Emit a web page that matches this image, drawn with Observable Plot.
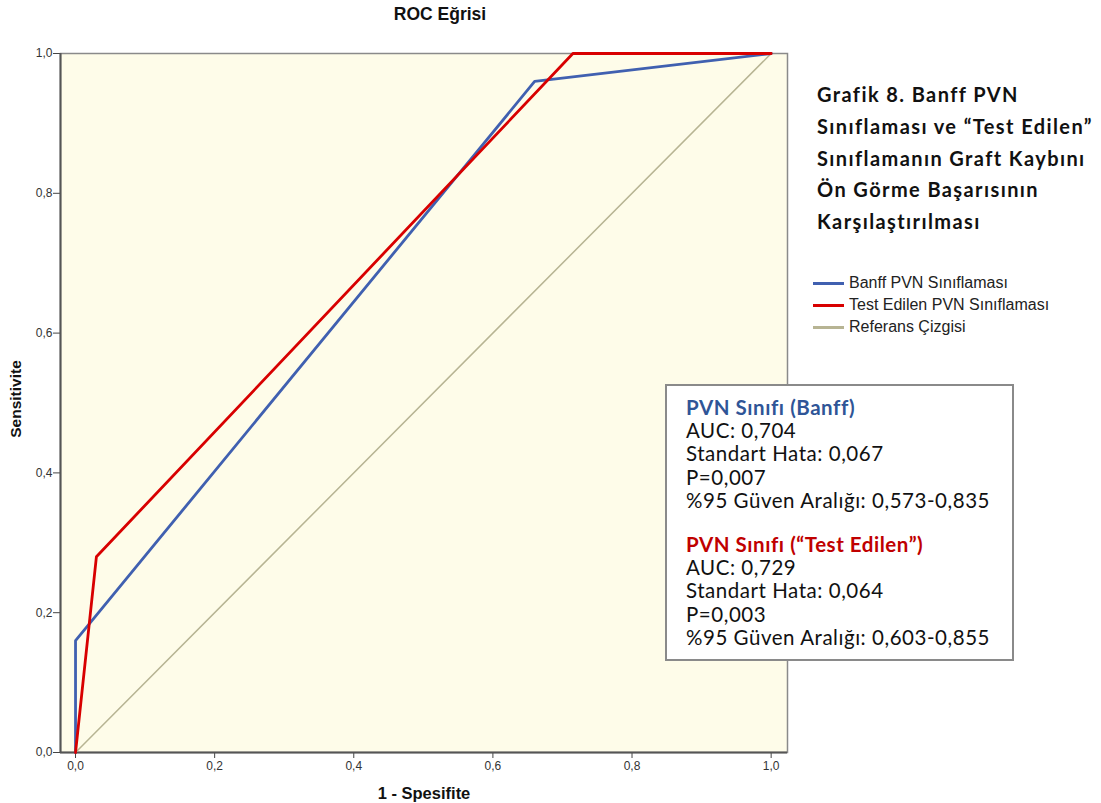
<!DOCTYPE html>
<html>
<head>
<meta charset="utf-8">
<script src="https://cdn.jsdelivr.net/npm/d3@7"></script>
<script src="https://cdn.jsdelivr.net/npm/@observablehq/plot@0.6"></script>
<style>
  body { margin: 0; background: #fff; }
  #wrap { position: relative; width: 1101px; height: 803px; font-family: "Liberation Sans", Arial, sans-serif; }
  #wrap svg { position: absolute; left: 0; top: 0; }
  .abs { position: absolute; white-space: nowrap; }
  #title { left: 340px; width: 200px; top: 4px; text-align: center; font-weight: bold; font-size: 17.5px; color: #111; }
  #xlab { left: 324px; width: 200px; top: 784px; text-align: center; font-weight: bold; font-size: 16.5px; color: #111; }
  #ylab { left: 16px; top: 399px; transform: translate(-50%, -50%) rotate(-90deg); font-weight: bold; font-size: 15.5px; color: #111; }
  #heading { left: 817px; top: 79px; font-family: Lato, "Open Sans", sans-serif; font-weight: bold; font-size: 20px; line-height: 31.8px; color: #111; }
  #legend { left: 813px; top: 272px; font-size: 16px; color: #222; }
  #legend div { height: 22px; display: flex; align-items: center; }
  #legend span.sw { display: inline-block; width: 31px; height: 3px; margin-right: 5px; }
  #box { left: 665px; top: 384px; width: 345px; height: 273px; background: #fff; border: 2px solid #8a8a8a; box-sizing: content-box;
         font-family: Lato, "Open Sans", sans-serif; font-size: 20.5px; line-height: 23.2px; color: #111; padding: 0; }
  #box .inner { position: absolute; left: 19px; top: 10px; }
  #box .gap { height: 21px; }
</style>
</head>
<body>
<div id="wrap">
  <div id="title" class="abs">ROC Eğrisi</div>
</div>
<script>
// ---- data ----
const banffFpr = [0, 0, 0.66, 1];
const banffTpr = [0, 0.16, 0.96, 1];
const testFpr = [0, 0.03, 0.715, 1];
const testTpr = [0, 0.28, 1, 1];
const refFpr = [0, 1];
const refTpr = [0, 1];
const ticks = [0, 0.2, 0.4, 0.6, 0.8, 1.0];
const seriesNames = ["Banff PVN Sınıflaması", "Test Edilen PVN Sınıflaması", "Referans Çizgisi"];
const seriesColors = ["#4060b0", "#d80000", "#b7b493"];
const headingLines = ["Grafik 8. Banff PVN", "Sınıflaması ve “Test Edilen”", "Sınıflamanın Graft Kaybını", "Ön Görme Başarısının", "Karşılaştırılması"];
const boxBanff = ["PVN Sınıfı (Banff)", "AUC: 0,704", "Standart Hata: 0,067", "P=0,007", "%95 Güven Aralığı: 0,573-0,835"];
const boxTest = ["PVN Sınıfı (“Test Edilen”)", "AUC: 0,729", "Standart Hata: 0,064", "P=0,003", "%95 Güven Aralığı: 0,603-0,855"];

const toRows = (xs, ys) => xs.map((x, i) => ({x, y: ys[i]}));
const banff = toRows(banffFpr, banffTpr);
const test = toRows(testFpr, testTpr);
const ref = toRows(refFpr, refTpr);
const fmt = d => d.toFixed(1).replace(".", ",");

const chart = Plot.plot({
  width: 1101,
  height: 803,
  marginLeft: 60,
  marginTop: 53,
  marginRight: 314,
  marginBottom: 51,
  style: {fontFamily: "Liberation Sans, Arial, sans-serif", fontSize: "12px", color: "#333", background: "transparent"},
  x: {domain: [-0.0216, 1.0235], label: null},
  y: {domain: [0, 1], label: null},
  marks: [
    Plot.frame({fill: "#fefce9", stroke: "#8a8a8a", strokeWidth: 1.5}),
    Plot.axisX({ticks, tickFormat: fmt, tickSize: 6, tickPadding: 3, stroke: "#444", fill: "#333", label: null}),
    Plot.axisY({ticks, tickFormat: fmt, tickSize: 7, tickPadding: 1, stroke: "#444", fill: "#333", label: null}),
    Plot.ruleY([0], {stroke: "#555", strokeWidth: 2}),
    Plot.ruleX([-0.0216], {stroke: "#555", strokeWidth: 2}),
    Plot.line(ref, {x: "x", y: "y", stroke: seriesColors[2], strokeWidth: 1.5}),
    Plot.line(banff, {x: "x", y: "y", stroke: seriesColors[0], strokeWidth: 2.8}),
    Plot.line(test, {x: "x", y: "y", stroke: seriesColors[1], strokeWidth: 2.8})
  ]
});

const wrap = document.getElementById("wrap");
wrap.insertBefore(chart, wrap.firstChild);

function add(id, html) {
  const d = document.createElement("div");
  d.id = id; d.className = "abs"; d.innerHTML = html;
  wrap.appendChild(d);
  return d;
}
add("xlab", "1 - Spesifite");
add("ylab", "Sensitivite");
const heading = add("heading", headingLines.map(t => `<span>${t}</span>`).join("<br>"));
add("legend", seriesNames.map((n, i) => `<div><span class="sw" style="background:${seriesColors[i]}"></span>${n}</div>`).join(""));
const box = add("box", "");
const inner = document.createElement("div");
inner.className = "inner";
inner.innerHTML =
  `<div style="color:#2f5597;font-weight:bold">${boxBanff[0]}</div>` +
  boxBanff.slice(1).map(t => `<div><span>${t}</span></div>`).join("") +
  `<div class="gap"></div>` +
  `<div style="color:#c00000;font-weight:bold">${boxTest[0]}</div>` +
  boxTest.slice(1).map(t => `<div><span>${t}</span></div>`).join("");
box.appendChild(inner);

// stretch the Calibri-substitute font so line widths match the original
function fitSpacing(container, span, target) {
  const w = span.getBoundingClientRect().width;
  const n = span.textContent.length;
  container.style.letterSpacing = ((target - w) / n) + "px";
}
fitSpacing(heading, heading.querySelectorAll("span")[1], 276);
fitSpacing(inner, inner.querySelectorAll("span")[3], 304);
</script>
</body>
</html>
